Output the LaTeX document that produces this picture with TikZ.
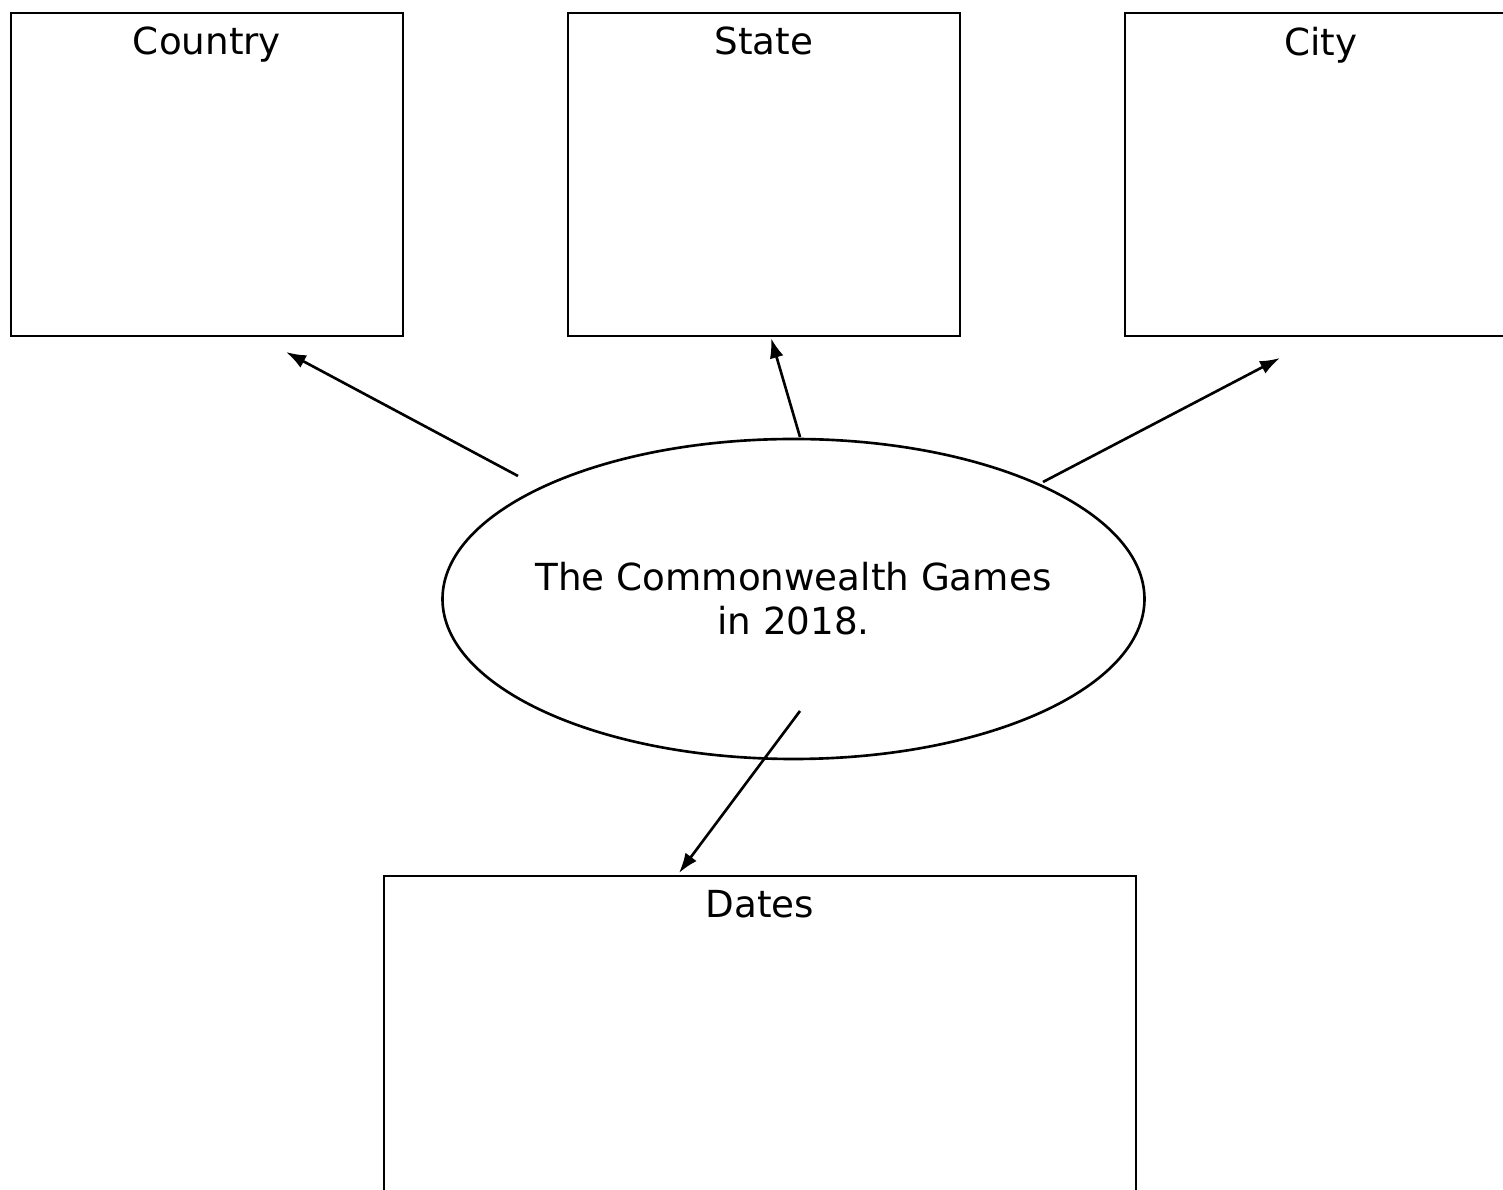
\documentclass[tikz,border=0pt]{standalone}
\usepackage{fontspec}
\setmainfont{DejaVu Sans}
\usetikzlibrary{shapes.geometric,arrows.meta,positioning}
\begin{document}
\begin{tikzpicture}[line width=0.75pt,
	box/.style={draw,rectangle,minimum width=3.92cm,minimum height=3.23cm,inner sep=0},
	title/.style={anchor=north,inner sep=0,font=\fontsize{10.6}{12.5}\selectfont},
	topic/.style={draw,ellipse,minimum width=7.02cm,minimum height=3.2cm,inner sep=0},
	topictext/.style={align=center,inner sep=0,font=\fontsize{10.6}{12.5}\selectfont},
	link/.style={-{Latex[length=0.2cm,width=0.14cm]}}]
	\useasboundingbox (0,0) rectangle (15.03,-11.9);
	\clip (0,0) rectangle (15.03,-11.9);
	% boxes along the top
	\node[box] (country) at (2.07,-1.745){};
	\node[box] (state) at (7.64,-1.745){};
	\node[box] (city) at (13.21,-1.745){};
	\node[box,minimum width=7.52cm,minimum height=3.6cm] (dates) at (7.60,-10.56){};
	\node[title,below=0.14cm of country.north] (countrylbl){Country};
	\node[title,below=0.14cm of state.north] (statelbl){State};
	\node[title,below=0.14cm of city.north] (citylbl){City};
	\node[title,below=0.14cm of dates.north] (dateslbl){Dates};
	% the topic in the middle
	\node[topic] (games) at (7.935,-5.99){};
	\node[topictext] (gameslbl) at (games.center){The Commonwealth Games\\in 2018.};
	% arrow ends
	\coordinate (c1) at (5.18,-4.76);
	\coordinate (c2) at (2.86,-3.52);
	\coordinate (s1) at (8.00,-4.37);
	\coordinate (s2) at (7.71,-3.38);
	\coordinate (t1) at (10.43,-4.82);
	\coordinate (t2) at (12.80,-3.58);
	\coordinate (d1) at (8.00,-7.11);
	\coordinate (d2) at (6.79,-8.73);
	\draw[link] (c1)--(c2);
	\draw[link] (s1)--(s2);
	\draw[link] (t1)--(t2);
	\draw[link] (d1)--(d2);
\end{tikzpicture}
\end{document}
